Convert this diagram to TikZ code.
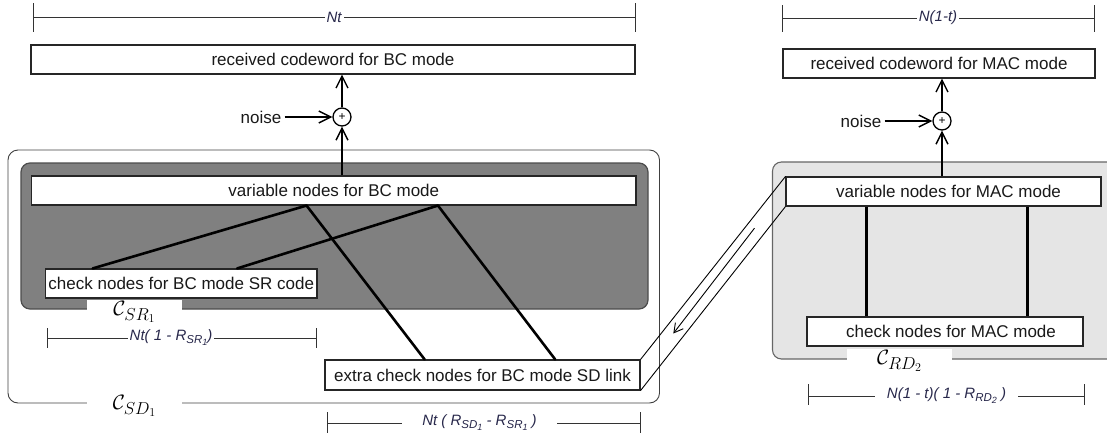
\documentclass[tikz,border=0pt]{standalone}
\usepackage{fontspec}
\setsansfont{Liberation Sans}
\usetikzlibrary{arrows.meta,calc}
\DeclareMathSizes{20.74}{20.74}{17.28}{12}
\definecolor{dimtext}{RGB}{40,40,75}
\definecolor{darkfill}{RGB}{128,128,128}
\definecolor{lightfill}{RGB}{229,229,229}
\newcommand{\subsub}[2]{\raisebox{-0.35ex}{\fontsize{11.5}{12}\selectfont #1\raisebox{-0.35ex}{\fontsize{9}{9}\selectfont #2}}}
\tikzset{
  box/.style={draw=black!85, fill=white, line width=1.1pt, inner sep=0pt,
    font=\sffamily\fontsize{17}{20}\selectfont, text=black!90},
  edgeline/.style={line width=2.6pt, line cap=round},
  arr/.style={line width=1.8pt, -{Straight Barb[length=12pt,width=12pt,line width=1.4pt]}},
  adder/.style={circle, draw, line width=1.3pt, minimum size=18pt, inner sep=0pt,
    font=\sffamily\fontsize{12}{12}\selectfont, fill=white},
  plain/.style={inner sep=3pt, font=\sffamily\fontsize{17}{20}\selectfont, text=black!90},
  dimln/.style={line width=0.8pt, draw=black!80},
  dimlabel/.style={fill=white, inner sep=2pt, font=\sffamily\itshape\fontsize{15}{18}\selectfont, text=dimtext},
  codelabel/.style={fill=white, inner sep=0pt, minimum height=24pt, font=\fontsize{20.74}{24}\selectfont},
  prism/.style={line width=0.9pt}
}
\begin{document}
\begin{tikzpicture}[x=1pt,y=-1pt]
\useasboundingbox (0,0) rectangle (1107,439);

% ---------- BC side containers ----------
\draw[draw=black!75, line width=0.9pt, rounded corners=10pt] (8,150) rectangle (659.5,403);
\draw[draw=black!70, fill=darkfill, line width=1.2pt, rounded corners=9pt] (21,163) rectangle (648,309);
\node[codelabel, minimum width=95pt] (lSR) at (134.5,312) {$\mathcal{C}_{SR_1}$};
\node[codelabel, minimum width=95pt, minimum height=20pt] (lSD) at (134.5,406) {$\mathcal{C}_{SD_1}$};

% ---------- MAC side container ----------
\draw[draw=black!60, fill=lightfill, line width=1.1pt, rounded corners=9pt] (772.5,162) rectangle (1125,359);
\node[codelabel, minimum width=105pt] (lRD) at (899.5,361) {$\mathcal{C}_{RD_2}$};

% ---------- boxes ----------
\node[box, minimum width=604pt, minimum height=29pt] (recBC) at (333,59.5) {received codeword for BC mode};
\node[box, minimum width=312pt, minimum height=29pt] (recMAC) at (939,63.5) {received codeword for MAC mode};
\node[box, minimum width=604.4pt, minimum height=29pt] (varBC) at (333.8,190.5) {variable nodes for BC mode};
\node[box, minimum width=271.5pt, minimum height=29pt] (chkSR) at (181.25,283.5) {check nodes for BC mode SR code};
\node[box, minimum width=315pt, minimum height=30pt] (extra) at (482.5,375) {extra check nodes for BC mode SD link};
\node[box, minimum width=315pt, minimum height=29pt] (varMAC) at (943.5,191.5) {\hspace*{10pt}variable nodes for MAC mode};
\node[box, minimum width=276pt, minimum height=29pt] (chkMAC) at (945,331.5) {\hspace*{12pt}check nodes for MAC mode};

% ---------- adders and noise ----------
\node[adder] (addBC) at (342,117) {+};
\node[adder] (addMAC) at (942,121) {+};
\node[plain] (noiseBC) at (261,117) {noise};
\node[plain] (noiseMAC) at (861,121) {noise};

\draw[arr] (noiseBC.east) -- (addBC.west);
\draw[arr] (noiseMAC.east) -- (addMAC.west);
\draw[arr] (addBC.south |- varBC.north) -- (addBC.south);
\draw[arr] (addBC.north) -- (addBC.north |- recBC.south);
\draw[arr] (addMAC.south |- varMAC.north) -- (addMAC.south);
\draw[arr] (addMAC.north) -- (addMAC.north |- recMAC.south);

% ---------- BC edges ----------
\coordinate (v1) at ($(varBC.south west)!0.455!(varBC.south east)$);
\coordinate (v2) at ($(varBC.south west)!0.672!(varBC.south east)$);
\coordinate (c1) at ($(chkSR.north west)!0.175!(chkSR.north east)$);
\coordinate (c2) at ($(chkSR.north west)!0.705!(chkSR.north east)$);
\coordinate (e1) at ($(extra.north west)!0.317!(extra.north east)$);
\coordinate (e2) at ($(extra.north west)!0.730!(extra.north east)$);
\draw[edgeline] (v1) -- (c1);
\draw[edgeline] (v2) -- (c2);
\draw[edgeline] (v1) -- (e1);
\draw[edgeline] (v2) -- (e2);

% ---------- MAC edges ----------
\coordinate (m1) at ($(varMAC.south west)!0.257!(varMAC.south east)$);
\coordinate (m2) at ($(varMAC.south west)!0.765!(varMAC.south east)$);
\draw[edgeline, line cap=butt] (m1) -- (m1 |- chkMAC.north);
\draw[edgeline, line cap=butt] (m2) -- (m2 |- chkMAC.north);

% ---------- link prism ----------
\draw[prism] (extra.north east) -- (varMAC.north west);
\draw[prism] (extra.south east) -- (varMAC.south west);
\coordinate (a1) at ($(extra.east)!0.80!(varMAC.west)$);
\coordinate (a2) at ($(extra.east)!0.226!(varMAC.west)$);
\draw[line width=0.9pt, -{Straight Barb[length=9pt,width=10pt,line width=0.9pt]}] ([xshift=-2pt]a1) -- (a2);

% ---------- dimension lines ----------
\draw[dimln] (33,3) -- (33,32);
\draw[dimln] (635,3) -- (635,32);
\draw[dimln] (33,17) -- (635,17);
\node[dimlabel] (dNt) at (334,17) {Nt};

\draw[dimln] (782,5) -- (782,32);
\draw[dimln] (1094,5) -- (1094,32);
\draw[dimln] (782,18) -- (1094,18);
\node[dimlabel] (dN1t) at (938,18) {N(1-t)};

\draw[dimln] (47,328) -- (47,348);
\draw[dimln] (316,328) -- (316,348);
\draw[dimln] (47,338) -- (316,338);
\node[dimlabel] (dSR) at (171,338) {Nt( 1 - R\subsub{SR}{1})};

\draw[dimln] (327,412) -- (327,433);
\draw[dimln] (640,412) -- (640,433);
\draw[dimln] (327,423) -- (640,423);
\node[dimlabel, minimum width=155pt] (dSD) at (479.5,423) {Nt ( R\subsub{SD}{1} - R\subsub{SR}{1} )};

\draw[dimln] (808,384) -- (808,405);
\draw[dimln] (1084,384) -- (1084,405);
\draw[dimln] (808,396) -- (1084,396);
\node[dimlabel, minimum width=143pt] (dRD) at (946.5,396) {N(1 - t)( 1 - R\subsub{RD}{2} )};
\end{tikzpicture}
\end{document}
